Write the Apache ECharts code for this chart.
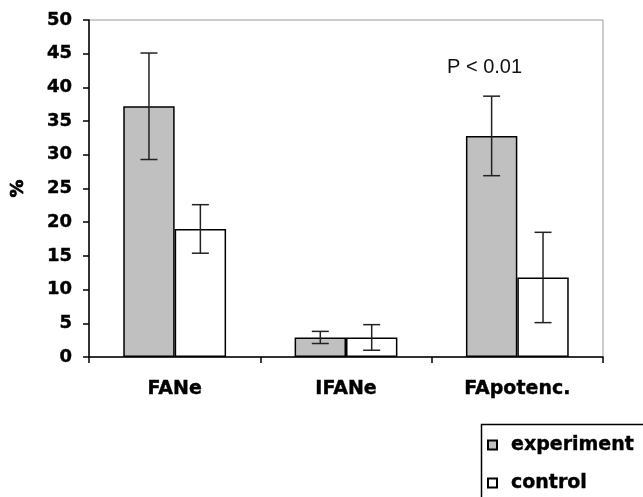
<!DOCTYPE html>
<html>
<head>
<meta charset="utf-8">
<script src="https://cdn.jsdelivr.net/npm/echarts@6/dist/echarts.min.js"></script>
<style>
  html, body { margin: 0; padding: 0; background: #fff; }
  #chart { width: 643px; height: 497px; }
</style>
</head>
<body>
<div id="chart"></div>
<script>
// Categories and group values (%), with error-bar half-widths
const categories = ['FANe', 'IFANe', 'FApotenc.'];
const experimentValues = [37.2, 2.9, 32.8];
const experimentErrors = [7.9, 0.9, 5.9];
const controlValues = [19.0, 2.9, 11.8];
const controlErrors = [3.6, 1.9, 6.7];
const yTicks = [0, 5, 10, 15, 20, 25, 30, 35, 40, 45, 50];
const seriesNames = ['experiment', 'control'];
const annotationText = 'P < 0.01';

const chart = echarts.init(document.getElementById('chart'), null, { renderer: 'canvas' });

const BAR_SHARE = 0.3; // each bar takes 30% of a category band
const boldFont = 'DejaVu Sans';

function errorData(values, errors, side) {
  return values.map((v, i) => [i, v, errors[i], side]);
}

function renderError(params, api) {
  const idx = api.value(0);
  const v = api.value(1);
  const e = api.value(2);
  const side = api.value(3);
  const band = api.size([1, 0])[0];
  const center = api.coord([idx, v]);
  const cx = center[0] + side * band * BAR_SHARE / 2;
  const yTop = api.coord([idx, v + e])[1];
  const yBot = api.coord([idx, Math.max(v - e, 0)])[1];
  const cap = 8.5;
  const style = { stroke: '#222', lineWidth: 1.5 };
  return {
    type: 'group',
    children: [
      { type: 'line', shape: { x1: cx, y1: yTop, x2: cx, y2: yBot }, style },
      { type: 'line', shape: { x1: cx - cap, y1: yTop, x2: cx + cap, y2: yTop }, style },
      { type: 'line', shape: { x1: cx - cap, y1: yBot, x2: cx + cap, y2: yBot }, style }
    ]
  };
}

const legendText = {
  fontFamily: boldFont, fontWeight: 'bold', fontSize: 19, color: '#000',
  lineHeight: 20, padding: [0, 0, 0, 9], textBorderColor: '#000', textBorderWidth: 0.4
};

function legendFor(name, top) {
  return {
    data: [name],
    orient: 'vertical',
    left: 487,
    top: top,
    padding: 0,
    itemWidth: 9,
    itemHeight: 9,
    icon: 'rect',
    textStyle: legendText
  };
}

const option = {
  animation: false,
  backgroundColor: '#fff',
  grid: {
    left: 89, right: 40, top: 20, bottom: 140,
    outerBoundsMode: 'none',
    containLabel: false,
    show: true, borderColor: '#999', borderWidth: 1, backgroundColor: 'transparent'
  },
  legend: [legendFor(seriesNames[0], 435), legendFor(seriesNames[1], 473)],
  graphic: [
    {
      type: 'rect', left: 479, top: 422, silent: true,
      shape: { width: 200, height: 100 },
      style: { fill: 'none', stroke: '#000', lineWidth: 1.5 }
    },
    {
      type: 'text',
      left: 447, top: 57,
      style: {
        text: annotationText,
        fontFamily: 'Liberation Sans Narrow, Liberation Sans, Arial',
        fontSize: 20, fill: '#111'
      }
    }
  ],
  xAxis: {
    type: 'category',
    data: categories,
    axisLine: { lineStyle: { color: '#000', width: 1.5 } },
    axisTick: { show: true, alignWithLabel: false, length: 6, lineStyle: { color: '#000', width: 1.5 } },
    axisLabel: {
      margin: 23, color: '#000', fontFamily: boldFont, fontWeight: 'bold', fontSize: 19,
      textBorderColor: '#000', textBorderWidth: 0.4
    }
  },
  yAxis: {
    type: 'value',
    min: yTicks[0],
    max: yTicks[yTicks.length - 1],
    interval: yTicks[1] - yTicks[0],
    name: '%',
    nameLocation: 'middle',
    nameRotate: 90,
    nameGap: 62,
    nameTextStyle: {
      fontFamily: boldFont, fontWeight: 'bold', fontSize: 18, color: '#000',
      textBorderColor: '#000', textBorderWidth: 0.8
    },
    axisLine: { show: true, lineStyle: { color: '#000', width: 1.5 } },
    axisTick: { show: true, length: 6, lineStyle: { color: '#000', width: 1.5 } },
    splitLine: { show: false },
    axisLabel: {
      margin: 17, color: '#000', fontFamily: boldFont, fontWeight: 'bold', fontSize: 18,
      textBorderColor: '#000', textBorderWidth: 0.4,
      formatter: v => String(v)
    }
  },
  series: [
    {
      name: seriesNames[0],
      type: 'bar',
      data: experimentValues,
      barGap: '0%',
      barCategoryGap: '40%',
      itemStyle: { color: '#c0c0c0', borderColor: '#000', borderWidth: 1.5 }
    },
    {
      name: seriesNames[1],
      type: 'bar',
      data: controlValues,
      barGap: '0%',
      barCategoryGap: '40%',
      itemStyle: { color: '#ffffff', borderColor: '#000', borderWidth: 1.5 }
    },
    {
      type: 'custom',
      renderItem: renderError,
      data: errorData(experimentValues, experimentErrors, -1),
      encode: { x: 0, y: 1 },
      z: 5
    },
    {
      type: 'custom',
      renderItem: renderError,
      data: errorData(controlValues, controlErrors, 1),
      encode: { x: 0, y: 1 },
      z: 5
    }
  ]
};

chart.setOption(option);
</script>
</body>
</html>
